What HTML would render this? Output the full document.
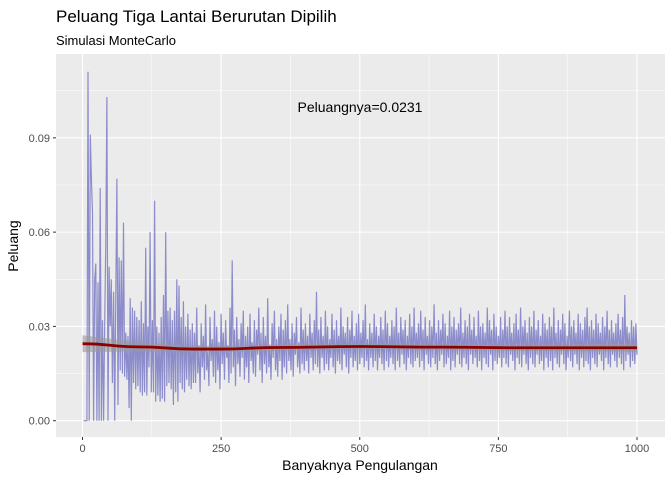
<!DOCTYPE html>
<html><head><meta charset="utf-8"><style>
body{margin:0;background:#fff;font-family:"Liberation Sans",sans-serif}
</style></head><body>
<svg width="672" height="480" xmlns="http://www.w3.org/2000/svg" id="svg">
<text x="56" y="22" font-size="17" fill="#000">Peluang Tiga Lantai Berurutan Dipilih</text>
<text x="56" y="45" font-size="13" fill="#000">Simulasi MonteCarlo</text>
<rect x="56" y="54" width="609" height="383" fill="#ebebeb"/>
<g id="grid"></g>
<g id="series"></g>
<g id="axes"></g>
<text x="360" y="112" font-size="14" text-anchor="middle" fill="#000">Peluangnya=0.0231</text>
<text x="360" y="470" font-size="14" text-anchor="middle">Banyaknya Pengulangan</text>
<text transform="translate(18,246) rotate(-90)" font-size="14" text-anchor="middle">Peluang</text>
</svg>
<script>
const xTicks=[0,250,500,750,1000];
const yTicks=[0,0.03,0.06,0.09];
const yTickLabels=["0.00","0.03","0.06","0.09"];
const trialStep=2;
const peluang=[0,0,0,0,.111,0,.091,.077,.066,0,.045,.05,0,.044,0,.074,0,.032,0,.031,.057,.103,0,.049,.03,.045,.012,.041,0,.04,.077,.005,.052,.016,.051,.015,.063,.014,.028,.013,.027,.004,.039,0,.036,.012,.035,.01,.033,.011,
.032,.009,.038,.008,.031,.009,.055,.008,.03,.017,.06,.009,.032,.009,.07,.006,.03,.008,.028,.006,.033,.007,.04,.006,.06,.011,.035,.012,.036,.01,.032,.005,.035,.009,.045,.006,.043,.012,.033,.01,.038,.009,.03,.013,.034,.011,.029,.01,.031,.012,
.028,.012,.036,.015,.024,.009,.031,.017,.027,.013,.037,.016,.022,.011,.033,.019,.026,.014,.035,.012,
.03,.016,.025,.01,.034,.018,.028,.013,.032,.02,.024,.012,.036,.015,.051,.017,.029,.011,.033,.018,
.026,.014,.031,.02,.035,.013,.027,.017,.03,.012,.034,.019,.025,.015,.032,.014,.029,.021,.036,.016,
.028,.012,.033,.018,.027,.015,.039,.017,.024,.013,.031,.02,.035,.016,.026,.014,.03,.019,.034,.013,
.029,.017,.032,.015,.037,.019,.026,.016,.031,.014,.028,.021,.033,.017,.025,.015,.036,.018,.029,.016,
.031,.019,.027,.015,.034,.02,.028,.016,.032,.018,.041,.017,.029,.015,.033,.02,.027,.016,.035,.018,
.03,.016,.026,.02,.034,.017,.029,.015,.032,.019,.027,.018,.036,.016,.03,.021,.028,.017,.033,.015,
.029,.02,.035,.017,.027,.019,.031,.016,.034,.018,.028,.02,.032,.017,.037,.019,.026,.016,.031,.02,
.028,.017,.034,.019,.03,.016,.027,.02,.033,.018,.029,.016,.035,.019,.031,.017,.027,.02,.032,.018,
.03,.016,.036,.019,.028,.017,.033,.021,.029,.018,.032,.016,.027,.02,.034,.018,.03,.017,.036,.019,
.028,.02,.031,.017,.035,.019,.029,.016,.033,.021,.027,.018,.032,.017,.03,.02,.037,.018,.028,.016,
.032,.019,.029,.021,.034,.017,.031,.018,.027,.02,.035,.016,.03,.019,.033,.017,.029,.021,.031,.018,
.036,.017,.028,.02,.032,.018,.03,.016,.034,.021,.029,.018,.033,.02,.027,.017,.035,.019,.03,.016,
.031,.02,.028,.018,.036,.017,.032,.021,.029,.016,.034,.019,.03,.018,.027,.02,.033,.017,.029,.02,
.035,.018,.03,.017,.033,.021,.028,.019,.031,.016,.034,.02,.029,.018,.036,.017,.03,.021,.032,.018,
.028,.016,.033,.02,.03,.018,.035,.017,.029,.021,.032,.018,.027,.019,.034,.016,.031,.02,.029,.017,
.033,.019,.03,.016,.036,.02,.028,.018,.032,.017,.029,.021,.034,.018,.031,.016,.027,.02,.035,.019,
.03,.017,.032,.021,.028,.018,.034,.016,.031,.02,.029,.017,.033,.019,.036,.018,.03,.016,.032,.02,
.029,.018,.034,.017,.031,.021,.028,.019,.033,.016,.03,.02,.035,.018,.029,.017,.032,.021,.028,.019,
.031,.017,.034,.02,.029,.018,.033,.016,.04,.019,.03,.021,.028,.017,.032,.019,.03,.018,.031,.021];
const smoothX=[0,100,200,250,350,500,650,800,1000];
const smoothY=[.0245,.0235,.0228,.0228,.0233,.0236,.0234,.0232,.0232];
const smoothSE=[.0027,.0015,.0011,.001,.001,.0009,.0009,.001,.0013];
const X=v=>82.5+v*0.5545, Y=v=>420.7-v*3143;
const NS="http://www.w3.org/2000/svg";
function mk(t,a,p){const e=document.createElementNS(NS,t);for(const k in a)e.setAttribute(k,a[k]);p.appendChild(e);return e;}
const grid=document.getElementById('grid'),ser=document.getElementById('series'),ax=document.getElementById('axes');
for(let i=0;i<xTicks.length-1;i++){const l=mk('line',{x1:X((xTicks[i]+xTicks[i+1])/2),x2:X((xTicks[i]+xTicks[i+1])/2),y1:54,y2:437,stroke:'#fff','stroke-width':0.5},grid);}
for(let i=0;i<yTicks.length;i++){const m=yTicks[i]+0.015;if(Y(m)>54){const l=mk('line',{x1:56,x2:665,y1:Y(m),y2:Y(m),stroke:'#fff','stroke-width':0.5},grid);}}
xTicks.forEach(v=>{const l=mk('line',{x1:X(v),x2:X(v),y1:54,y2:437,stroke:'#fff','stroke-width':1.1},grid);
const t=mk('line',{x1:X(v),x2:X(v),y1:437,y2:440,stroke:'#333'},ax);
const tx=mk('text',{x:X(v),y:452,'font-size':11,'text-anchor':'middle',fill:'#4d4d4d'},ax);tx.textContent=v;});
yTicks.forEach((v,i)=>{const l=mk('line',{x1:56,x2:665,y1:Y(v),y2:Y(v),stroke:'#fff','stroke-width':1.1},grid);
const t=mk('line',{x1:53,x2:56,y1:Y(v),y2:Y(v),stroke:'#333'},ax);
const tx=mk('text',{x:50,y:Y(v)+4,'font-size':11,'text-anchor':'end',fill:'#4d4d4d'},ax);tx.textContent=yTickLabels[i];});
const pts=peluang.map((v,i)=>X((i+1)*trialStep).toFixed(1)+','+Y(v).toFixed(1));
const pl=mk('polyline',{points:pts.join(' '),fill:'none',stroke:'#7b7bc6','stroke-opacity':0.85,'stroke-width':1.2},ser);

let band=smoothX.map((x,i)=>X(x)+','+Y(smoothY[i]+smoothSE[i])).concat(smoothX.map((x,i)=>X(x)+','+Y(smoothY[i]-smoothSE[i])).reverse());
const bp=mk('polygon',{points:band.join(' '),fill:'#999','fill-opacity':0.6},ser);

let d='M'+X(smoothX[0])+','+Y(smoothY[0]);
for(let i=1;i<smoothX.length;i++){const x0=X(smoothX[i-1]),x1=X(smoothX[i]),y0=Y(smoothY[i-1]),y1=Y(smoothY[i]);d+=' C'+((x0+x1)/2)+','+y0+' '+((x0+x1)/2)+','+y1+' '+x1+','+y1;}
const sp=mk('path',{d:d,fill:'none',stroke:'#8b0000','stroke-width':2.8},ser);

</script>
</body></html>
